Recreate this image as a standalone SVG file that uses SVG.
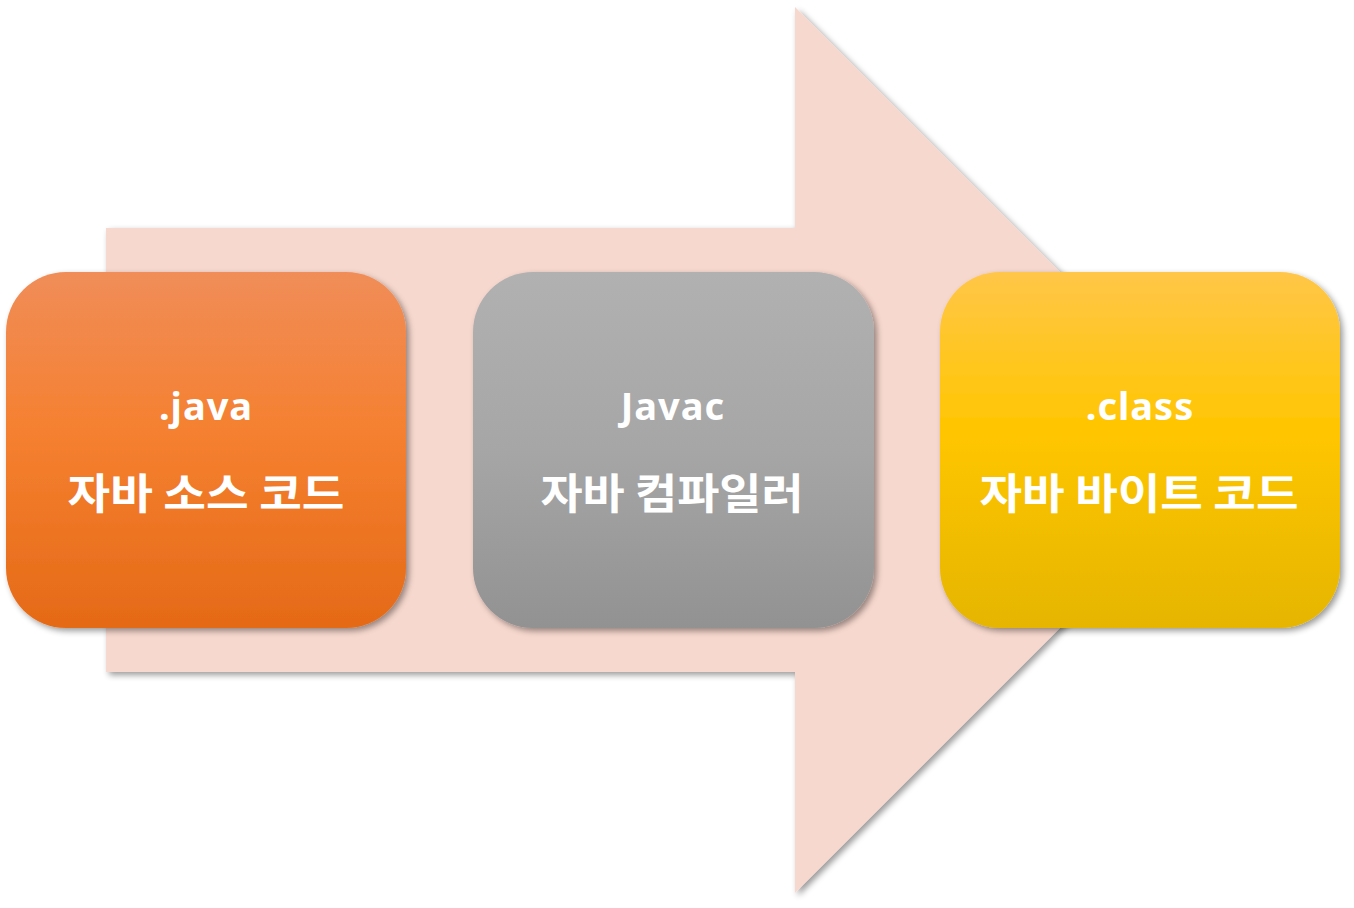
<svg xmlns="http://www.w3.org/2000/svg" width="1354" height="908" viewBox="0 0 1354 908">
<defs>
<linearGradient id="gO" x1="0" y1="0" x2="0" y2="1">
<stop offset="0" stop-color="#F08D58"/><stop offset="0.45" stop-color="#F58030"/><stop offset="1" stop-color="#E56A17"/>
</linearGradient>
<linearGradient id="gG" x1="0" y1="0" x2="0" y2="1">
<stop offset="0" stop-color="#B1B1B1"/><stop offset="0.5" stop-color="#A6A6A6"/><stop offset="1" stop-color="#929292"/>
</linearGradient>
<linearGradient id="gY" x1="0" y1="0" x2="0" y2="1">
<stop offset="0" stop-color="#FFC648"/><stop offset="0.45" stop-color="#FFC600"/><stop offset="1" stop-color="#E5B500"/>
</linearGradient>
<filter id="sh" x="-10%" y="-10%" width="125%" height="125%">
<feGaussianBlur in="SourceAlpha" stdDeviation="3"/>
<feOffset dx="3" dy="3"/>
<feComponentTransfer><feFuncA type="linear" slope="0.4"/></feComponentTransfer>
<feMerge><feMergeNode/><feMergeNode in="SourceGraphic"/></feMerge>
</filter>
</defs>
<style>
.t1{font-family:"Noto Sans","Noto Sans CJK KR",sans-serif;font-weight:bold;font-size:38px;letter-spacing:1px;fill:#fff;text-anchor:middle}
.t2{font-family:"Noto Sans CJK KR",sans-serif;font-weight:bold;font-size:42px;fill:#fff;text-anchor:middle}
</style>
<g id="arrow">
<polygon points="106,228 795,228 795,7 1238,450 795,893 795,672 106,672" fill="#F7D8CE" filter="url(#sh)"/>
</g>
<g id="node-java">
<rect x="6" y="272" width="400" height="356" rx="60" ry="60" fill="url(#gO)" filter="url(#sh)"/>
<text class="t1" x="206" y="420">.java</text>
<text class="t2" x="206" y="509" textLength="277" lengthAdjust="spacingAndGlyphs">자바 소스 코드</text>
</g>
<g id="node-javac">
<rect x="473" y="272" width="401" height="356" rx="60" ry="60" fill="url(#gG)" filter="url(#sh)"/>
<text class="t1" x="673" y="420">Javac</text>
<text class="t2" x="672" y="509" textLength="263" lengthAdjust="spacingAndGlyphs">자바 컴파일러</text>
</g>
<g id="node-class">
<rect x="940" y="272" width="400" height="356" rx="60" ry="60" fill="url(#gY)" filter="url(#sh)"/>
<text class="t1" x="1140" y="420">.class</text>
<text class="t2" x="1139" y="509" textLength="319" lengthAdjust="spacingAndGlyphs">자바 바이트 코드</text>
</g>
<g id="connectors"/>
</svg>
